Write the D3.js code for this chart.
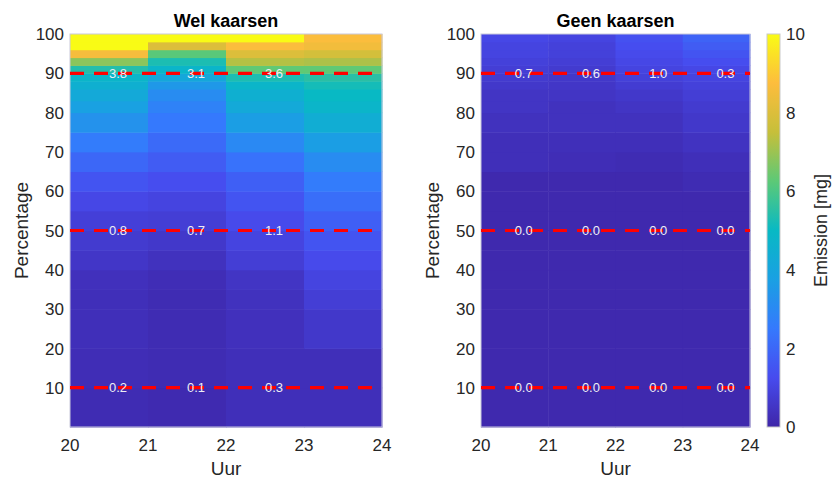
<!DOCTYPE html>
<html>
<head>
<meta charset="utf-8">
<script src="https://cdn.jsdelivr.net/npm/d3@7"></script>
<style>
  body { margin: 0; background: #fff; }
  svg { font-family: "Liberation Sans", Arial, Helvetica, sans-serif; }
</style>
</head>
<body>
<svg width="834" height="480"></svg>
<script>
// hours on the x axis
const hours = [20, 21, 22, 23, 24];
// upper edge of each percentile band
const bandTops = [10, 20, 30, 35, 40, 45, 50, 55, 60, 65, 70, 75, 80, 83, 86, 88, 90, 92, 94, 96, 98, 100];

// "Wel kaarsen" emission per band, one array per hour
const welH20 = [0.2, 0.25, 0.3, 0.3, 0.35, 0.55, 0.7, 0.85, 1.1, 1.5, 2.0, 2.6, 3.3, 3.8, 4.2, 4.5, 4.8, 5.4, 6.8, 8.6, 10, 10];
const welH21 = [0.15, 0.2, 0.2, 0.2, 0.25, 0.4, 0.6, 0.8, 1.0, 1.3, 1.7, 2.1, 2.5, 2.8, 3.1, 3.5, 4.1, 4.8, 5.3, 6.2, 8.0, 10];
const welH22 = [0.3, 0.3, 0.35, 0.4, 0.5, 0.8, 1.0, 1.2, 1.5, 1.8, 2.3, 3.0, 3.7, 4.2, 4.5, 4.8, 5.3, 6.3, 7.3, 8.0, 8.7, 10];
const welH23 = [0.3, 0.3, 0.6, 0.8, 1.0, 1.2, 1.5, 1.8, 2.2, 2.6, 3.1, 3.7, 4.4, 4.8, 5.0, 5.2, 5.5, 6.3, 7.2, 7.8, 8.5, 8.7];

// "Geen kaarsen" emission per band
const geenH20 = [0.1, 0.1, 0.1, 0.1, 0.1, 0.1, 0.1, 0.1, 0.1, 0.1, 0.3, 0.3, 0.4, 0.5, 0.5, 0.6, 0.7, 0.8, 0.9, 1.0, 1.0, 1.1];
const geenH21 = [0.1, 0.1, 0.1, 0.1, 0.1, 0.1, 0.1, 0.1, 0.1, 0.1, 0.25, 0.3, 0.4, 0.4, 0.5, 0.55, 0.6, 0.7, 0.8, 0.9, 0.9, 1.0];
const geenH22 = [0.1, 0.1, 0.1, 0.1, 0.1, 0.1, 0.1, 0.1, 0.1, 0.1, 0.2, 0.3, 0.4, 0.5, 0.6, 0.75, 0.9, 1.0, 1.1, 1.2, 1.3, 1.4];
const geenH23 = [0.1, 0.1, 0.1, 0.1, 0.1, 0.1, 0.1, 0.1, 0.1, 0.2, 0.3, 0.45, 0.6, 0.7, 0.8, 0.9, 1.0, 1.1, 1.3, 1.5, 1.7, 1.9];

// percentile lines and their printed values
const markLevels = [10, 50, 90];
const welLabels = [["0.2", "0.1", "0.3", ""], ["0.8", "0.7", "1.1", ""], ["3.8", "3.1", "3.6", ""]];
const geenLabels = [["0.0", "0.0", "0.0", "0.0"], ["0.0", "0.0", "0.0", "0.0"], ["0.7", "0.6", "1.0", "0.3"]];

const yTicks = [10, 20, 30, 40, 50, 60, 70, 80, 90, 100];
const cbTicks = [0, 2, 4, 6, 8, 10];

// parula-like colormap
const parulaStops = [
  [0.000, "#3e26a8"], [0.125, "#474bee"], [0.250, "#3579fd"], [0.375, "#1aa0e3"],
  [0.500, "#08b9c4"], [0.625, "#5cc977"], [0.750, "#c6bf3a"], [0.875, "#fdbd3d"], [1.000, "#f9fb15"]
];
const color = d3.scaleLinear()
  .domain(parulaStops.map(d => d[0] * 10))
  .range(parulaStops.map(d => d[1]))
  .interpolate(d3.interpolateRgb)
  .clamp(true);

const svg = d3.select("svg");
const y = d3.scaleLinear().domain([0, 100]).range([427, 34]);

function panel(title, cols, labels, x0, x1) {
  const x = d3.scaleLinear().domain([20, 24]).range([x0, x1]);
  const g = svg.append("g");

  cols.forEach((vals, ci) => {
    vals.forEach((v, bi) => {
      const lo = bi === 0 ? 0 : bandTops[bi - 1];
      g.append("rect")
        .attr("x", x(hours[ci]))
        .attr("width", x(hours[ci + 1]) - x(hours[ci]) + 0.5)
        .attr("y", y(bandTops[bi]))
        .attr("height", y(lo) - y(bandTops[bi]) + 0.5)
        .attr("fill", color(v));
    });
  });

  g.append("rect")
    .attr("x", x0).attr("y", y(100))
    .attr("width", x1 - x0).attr("height", y(0) - y(100))
    .attr("fill", "none").attr("stroke", "#c9c9dc").attr("stroke-width", 1);

  markLevels.forEach((lv, li) => {
    g.append("line")
      .attr("x1", x0).attr("x2", x1)
      .attr("y1", y(lv)).attr("y2", y(lv))
      .attr("stroke", "#ff0000").attr("stroke-width", 3.2)
      .attr("stroke-dasharray", "14,10");
    labels[li].forEach((t, ci) => {
      if (!t) return;
      g.append("text")
        .attr("x", x(hours[ci] + 0.5))
        .attr("y", y(lv))
        .attr("dy", "0.36em")
        .attr("fill", "#eeeef4")
        .style("font-size", "13px")
        .text(t);
    });
  });

  // y ticks
  g.selectAll(".yt").data(yTicks).join("text")
    .attr("x", x0 - 6).attr("y", d => y(d)).attr("dy", "0.36em")
    .attr("text-anchor", "end").attr("fill", "#262626")
    .style("font-size", "17px").text(d => d);

  // x ticks
  g.selectAll(".xt").data(hours).join("text")
    .attr("x", d => x(d)).attr("y", 451)
    .attr("text-anchor", "middle").attr("fill", "#262626")
    .style("font-size", "17px").text(d => d);

  g.append("text")
    .attr("x", (x0 + x1) / 2).attr("y", 475)
    .attr("text-anchor", "middle").attr("fill", "#262626")
    .style("font-size", "19px").text("Uur");

  g.append("text")
    .attr("transform", `translate(${x0 - 42},${y(50)}) rotate(-90)`)
    .attr("text-anchor", "middle").attr("fill", "#262626")
    .style("font-size", "19px").text("Percentage");

  g.append("text")
    .attr("x", (x0 + x1) / 2).attr("y", 27)
    .attr("text-anchor", "middle").attr("fill", "#000")
    .style("font-size", "18px").style("font-weight", "bold").text(title);
}

panel("Wel kaarsen", [welH20, welH21, welH22, welH23], welLabels, 70, 382);
panel("Geen kaarsen", [geenH20, geenH21, geenH22, geenH23], geenLabels, 481, 750);

// colorbar
const cb = d3.scaleLinear().domain([0, 10]).range([427, 34]);
const grad = svg.append("defs").append("linearGradient")
  .attr("id", "cbgrad").attr("x1", 0).attr("x2", 0).attr("y1", 1).attr("y2", 0);
d3.range(0, 10.01, 0.25).forEach(v => {
  grad.append("stop").attr("offset", v / 10).attr("stop-color", color(v));
});
svg.append("rect")
  .attr("x", 767).attr("y", cb(10))
  .attr("width", 13).attr("height", cb(0) - cb(10))
  .attr("fill", "url(#cbgrad)")
  .attr("stroke", "#c9c9c9").attr("stroke-width", 1);
svg.selectAll(".cbt").data(cbTicks).join("text")
  .attr("x", 786).attr("y", d => cb(d)).attr("dy", "0.36em")
  .attr("fill", "#262626").style("font-size", "17px").text(d => d);
svg.append("text")
  .attr("transform", `translate(827,${cb(5)}) rotate(-90)`)
  .attr("text-anchor", "middle").attr("fill", "#262626")
  .style("font-size", "18px").text("Emission [mg]");
</script>
</body>
</html>
